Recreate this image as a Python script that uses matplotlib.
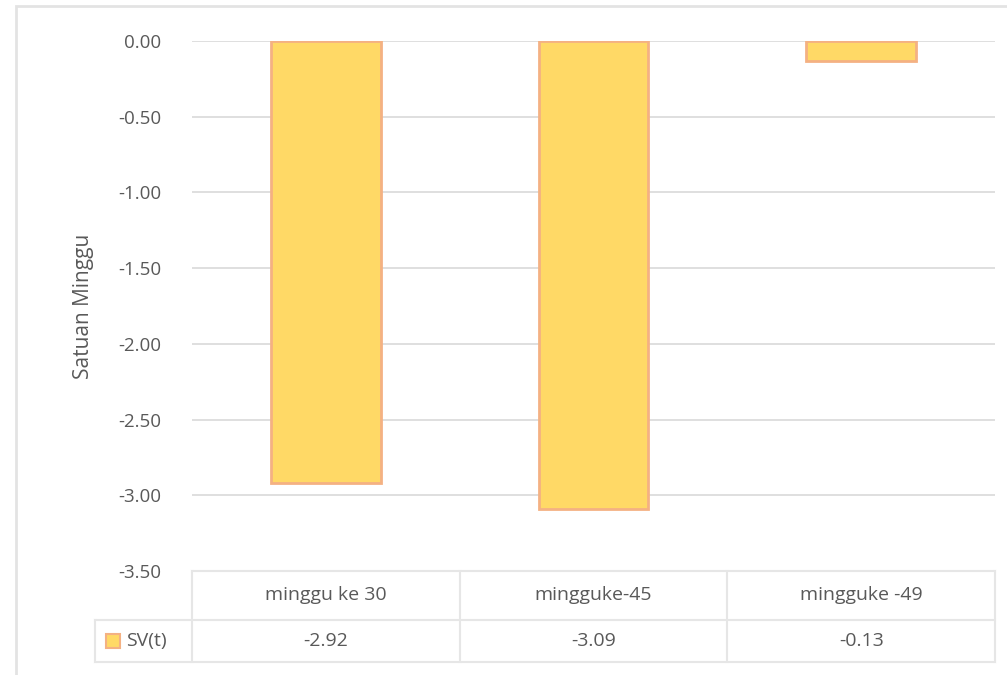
import matplotlib.pyplot as plt
from matplotlib.patches import Rectangle
from matplotlib.lines import Line2D

categories = ["minggu ke 30", "mingguke-45", "mingguke -49"]
sv_values = [-2.92, -3.09, -0.13]
series_name = "SV(t)"
y_ticks = [0.0, -0.5, -1.0, -1.5, -2.0, -2.5, -3.0, -3.5]

W, H = 1007, 675
TXT = "#595959"
GRID = "#D9D9D9"
FILL = "#FFD966"
EDGE = "#F4B183"

fig = plt.figure(figsize=(W / 100, H / 100), dpi=100)
plt.rcParams['font.family'] = ['Open Sans', 'DejaVu Sans']

def fx(px):
    return px / W

def fy(py):
    return 1 - py / H

# outer chart border
fig.add_artist(Rectangle((fx(16), fy(700)), fx(1000), fy(6) - fy(700), transform=fig.transFigure,
                         fill=False, edgecolor="#E3E3E3", linewidth=2))

left, right, top, bottom = 192, 995, 41, 571
ax = fig.add_axes([fx(left), fy(bottom), fx(right - left), fy(top) - fy(bottom)])
x = [i + 0.5 for i in range(len(categories))]
ax.bar(x, sv_values, width=0.41, color=FILL, edgecolor=EDGE, linewidth=2, zorder=3)
ax.set_xlim(0, len(categories))
ax.set_ylim(-3.5, 0)
ax.set_yticks(y_ticks)
ax.set_yticklabels([f"{v:.2f}" for v in y_ticks], color=TXT, fontsize=13.5)
ax.tick_params(axis="y", length=0, pad=22)
ax.set_xticks([])
ax.grid(axis="y", color=GRID, linewidth=1.2, zorder=0)
for s in ax.spines.values():
    s.set_visible(False)
ax.set_ylabel("Satuan Minggu", color=TXT, fontsize=15)
ax.yaxis.set_label_coords(-0.122, 0.5)

# data table under the plot
col_edges = [left + i * (right - left) / len(categories) for i in range(len(categories) + 1)]
row_y = [571, 620, 662]
tbl_left = 95
line_kw = dict(color="#E6E6E6", linewidth=1.5, transform=fig.transFigure)
fig.add_artist(Line2D([fx(left), fx(right)], [fy(row_y[0])] * 2, **line_kw))
fig.add_artist(Line2D([fx(tbl_left), fx(right)], [fy(row_y[1])] * 2, **line_kw))
fig.add_artist(Line2D([fx(tbl_left), fx(right)], [fy(row_y[2])] * 2, **line_kw))
fig.add_artist(Line2D([fx(tbl_left)] * 2, [fy(row_y[1]), fy(row_y[2])], **line_kw))
for cx in col_edges:
    fig.add_artist(Line2D([fx(cx)] * 2, [fy(row_y[0]), fy(row_y[2])], **line_kw))

for i, (cat, val) in enumerate(zip(categories, sv_values)):
    cx = (col_edges[i] + col_edges[i + 1]) / 2
    fig.text(fx(cx), fy((row_y[0] + row_y[1]) / 2), cat, ha="center", va="center",
             color=TXT, fontsize=14)
    fig.text(fx(cx), fy((row_y[1] + row_y[2]) / 2), f"{val:.2f}", ha="center", va="center",
             color=TXT, fontsize=14)

# legend key in the table
fig.add_artist(Rectangle((fx(106), fy(648)), fx(14), fy(634) - fy(648), transform=fig.transFigure,
                         facecolor=FILL, edgecolor=EDGE, linewidth=1.5))
fig.text(fx(126), fy(641), series_name, ha="left", va="center", color=TXT, fontsize=14)

fig.savefig("out.png", dpi=100)
